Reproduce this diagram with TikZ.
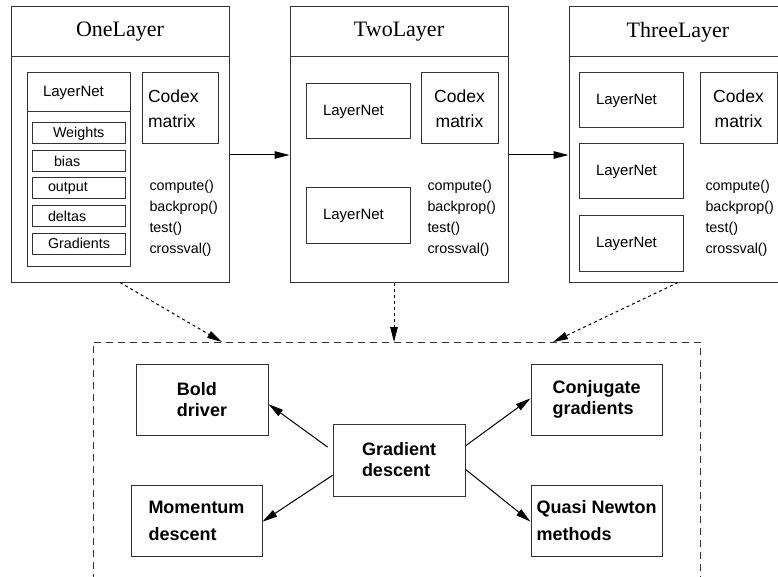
\documentclass[tikz,border=0pt]{standalone}
\usepackage{fontspec}
\setmainfont{Liberation Serif}
\setsansfont{Liberation Sans}
\usetikzlibrary{arrows.meta}

\begin{document}
\begin{tikzpicture}[x=1pt,y=-1pt,line width=1pt,
  >={Triangle[length=15pt,width=7.5pt]},
  classbox/.style={rectangle,draw=black!80,minimum width=218pt,minimum height=275pt,inner sep=0pt},
  classtitle/.style={rectangle,draw=black!80,minimum width=218pt,minimum height=50pt,font=\fontsize{22}{26}\selectfont},
  netframe/.style={rectangle,draw=black!80,minimum width=103pt,minimum height=193pt,inner sep=0pt},
  nettitle/.style={rectangle,draw=black!80,minimum width=103pt,minimum height=39pt,inner sep=0pt,
    align=left,text width=71pt,font=\sffamily\fontsize{15}{18}\selectfont},
  fieldbox/.style={rectangle,draw=black!80,minimum width=93pt,minimum height=21pt,inner sep=0pt,
    align=left,text width=#1,font=\sffamily\fontsize{14.3}{17}\selectfont},
  netbox/.style={rectangle,draw=black!80,minimum width=104pt,minimum height=55pt,inner sep=0pt,
    align=left,text width=70pt,font=\sffamily\fontsize{15}{18}\selectfont},
  codexbox/.style={rectangle,draw=black!80,minimum width=77pt,minimum height=71pt,inner sep=0pt,
    align=center,font=\sffamily\fontsize{17.5}{25}\selectfont},
  methods/.style={anchor=north west,inner sep=0pt,align=left,font=\sffamily\fontsize{14.3}{21}\selectfont},
  regionbox/.style={rectangle,draw=black!80,dash pattern=on 7pt off 5pt,minimum width=607pt,minimum height=258pt},
  algobox/.style={rectangle,draw=black!80,minimum width=132pt,minimum height=71pt,
    align=left,font=\sffamily\bfseries\fontsize{18}{21}\selectfont},
  widegap/.style={font=\sffamily\bfseries\fontsize{18}{27}\selectfont}]
  \path[use as bounding box,clip] (0,0) rectangle (778,577);
  \path

(120,144.5) node[classbox] (oneL) {}
(120,32) node[classtitle] (oneT) {OneLayer}
(78.5,169.5) node[netframe] (netA) {}
(78.5,92.5) node[nettitle] (netAt) {LayerNet}
(78.5,133.5) node[fieldbox=51pt] (wts) {Weights}
(78.5,161.5) node[fieldbox=49pt] (bias) {bias}
(78.5,188.5) node[fieldbox=61pt] (outp) {output}
(78.5,216) node[fieldbox=61pt] (dlt) {deltas}
(78.5,243.5) node[fieldbox=61pt] (grads) {Gradients}
(180,108.5) node[codexbox,minimum width=76pt,align=left,text width=64pt] (cdxA) {Codex\\matrix}
(149,179.5) node[methods] (mthA) {compute()\\backprop()\\test()\\crossval()}

(399,144.5) node[classbox] (twoL) {}
(399,32) node[classtitle] (twoT) {TwoLayer}
(358,111.5) node[netbox] (netB1) {LayerNet}
(358,215.5) node[netbox] (netB2) {LayerNet}
(459.5,108.5) node[codexbox] (cdxB) {Codex\\matrix}
(427,179.5) node[methods] (mthB) {compute()\\backprop()\\test()\\crossval()}

(678,144.5) node[classbox] (threeL) {}
(678,32) node[classtitle] (threeT) {ThreeLayer}
(631,100.5) node[netbox] (netC1) {LayerNet}
(631,171.5) node[netbox] (netC2) {LayerNet}
(631,243.5) node[netbox] (netC3) {LayerNet}
(738.5,108.5) node[codexbox] (cdxC) {Codex\\matrix}
(705,179.5) node[methods] (mthC) {compute()\\backprop()\\test()\\crossval()}

(396.5,471) node[regionbox] (optim) {}
(222,342) coordinate (dstA)
(394,342) coordinate (dstB)
(553,342) coordinate (dstC)

(202,399.5) node[algobox] (bold) {Bold\\driver}
(196.5,520.5) node[algobox,widegap,minimum width=131pt] (mom) {Momentum\\descent}
(399,460) node[algobox,minimum height=72pt] (grad) {Gradient\\descent}
(596.5,399.5) node[algobox,minimum width=131pt] (conj) {Conjugate\\gradients}
(596.5,520.5) node[algobox,widegap,minimum width=131pt] (quasi) {Quasi Newton\\methods}
  ;
  \draw[->] ([yshift=-10.5pt]oneL.east) -- ([yshift=-10.5pt]twoL.west);
  \draw[->] ([yshift=-10.5pt]twoL.east) -- ([yshift=-10.5pt]threeL.west);
  \draw[->,dashed] (oneL.south) -- (dstA);
  \draw[->,dashed] ([xshift=-5pt]twoL.south) -- (dstB);
  \draw[->,dashed] (threeL.south) -- (dstC);
  \draw[->,shorten <=6pt] (grad.172) -- (bold.-4);
  \draw[->] (grad.193) -- (mom.-1);
  \draw[->] (grad.12) -- (conj.179);
  \draw[->] (grad.-8) -- (quasi.181);
\end{tikzpicture}
\end{document}
